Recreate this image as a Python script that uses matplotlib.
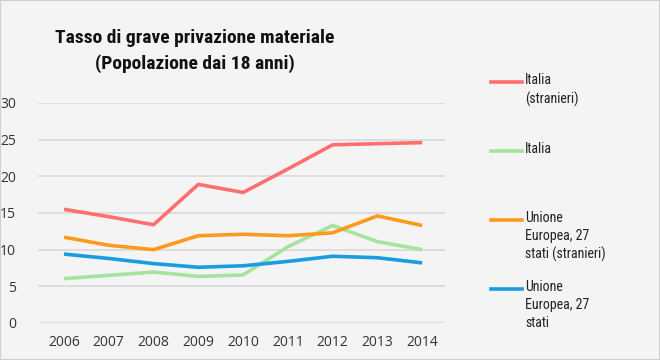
import matplotlib.pyplot as plt
from matplotlib import font_manager
from matplotlib.patches import Rectangle

years = ["2006", "2007", "2008", "2009", "2010", "2011", "2012", "2013", "2014"]
italia_stranieri = [15.5, 14.5, 13.4, 18.9, 17.8, 21.0, 24.3, 24.45, 24.6]
italia = [6.05, 6.5, 6.95, 6.35, 6.55, 10.4, 13.3, 11.1, 10.0]
ue27_stranieri = [11.7, 10.6, 10.0, 11.9, 12.1, 11.9, 12.3, 14.6, 13.3]
ue27 = [9.4, 8.8, 8.1, 7.6, 7.8, 8.4, 9.1, 8.9, 8.2]

labels = ["Italia\n(stranieri)", "Italia", "Unione\nEuropea, 27\nstati (stranieri)", "Unione\nEuropea, 27\nstati"]
colors = ["#ff6f6f", "#a6e39e", "#ff9a1e", "#1a9ce0"]
series = [italia_stranieri, italia, ue27_stranieri, ue27]

# look for a narrow font, otherwise fall back
names = {f.name for f in font_manager.fontManager.ttflist}
narrow = "Liberation Sans"
for cand in ["Roboto Condensed", "Liberation Sans Narrow", "Open Sans Condensed", "Noto Sans Condensed"]:
    if cand in names:
        narrow = cand
        break

bg = "#f4f4f4"
fig = plt.figure(figsize=(6.6, 3.6), dpi=100, facecolor=bg)
fig.patches.append(Rectangle((0, 0), 1, 1, transform=fig.transFigure, fill=False,
                             edgecolor="#cfcfcf", linewidth=1.5))

ax = fig.add_axes([38 / 660, 1 - 323 / 360, 407 / 660, 220 / 360])
ax.set_facecolor(bg)

x = list(range(len(years)))
for vals, c in zip(series, colors):
    ax.plot(x, vals, color=c, linewidth=2.6, solid_capstyle="butt")

ax.set_ylim(0, 30)
ax.set_xlim(-0.58, 8.51)
ax.set_yticks(range(0, 31, 5))
ax.set_xticks(x)
ax.set_xticklabels(years)
ax.grid(axis="y", color="#d9d9d9", linewidth=1.2)
ax.set_axisbelow(True)
for s in ax.spines.values():
    s.set_visible(False)
ax.tick_params(length=0, labelsize=10, colors="#333333", pad=9)
ax.tick_params(axis="y", pad=16)
for lab in ax.get_xticklabels() + ax.get_yticklabels():
    lab.set_family(["Open Sans", "DejaVu Sans"])

title_size = 14 if narrow != "Liberation Sans" else 12
fig.text(195 / 660, 1 - 51 / 360, "Tasso di grave privazione materiale\n(Popolazione dai 18 anni)",
         ha="center", va="center", fontsize=title_size, fontweight="bold",
         family=[narrow, "DejaVu Sans"], linespacing=1.55, color="#111111")

# legend drawn by hand on the right
leg_y = [82, 151, 220, 289]
for lab, c, yy in zip(labels, colors, leg_y):
    fy = 1 - yy / 360
    fig.add_artist(plt.Line2D([491 / 660, 522 / 660], [fy, fy], color=c, linewidth=2.6,
                              transform=fig.transFigure))
    fig.text(525 / 660, fy + 9 / 360, lab, ha="left", va="top", fontsize=10,
             family=[narrow, "DejaVu Sans"], color="#222222", linespacing=1.35)

fig.savefig("out.png", dpi=100, facecolor=bg)
